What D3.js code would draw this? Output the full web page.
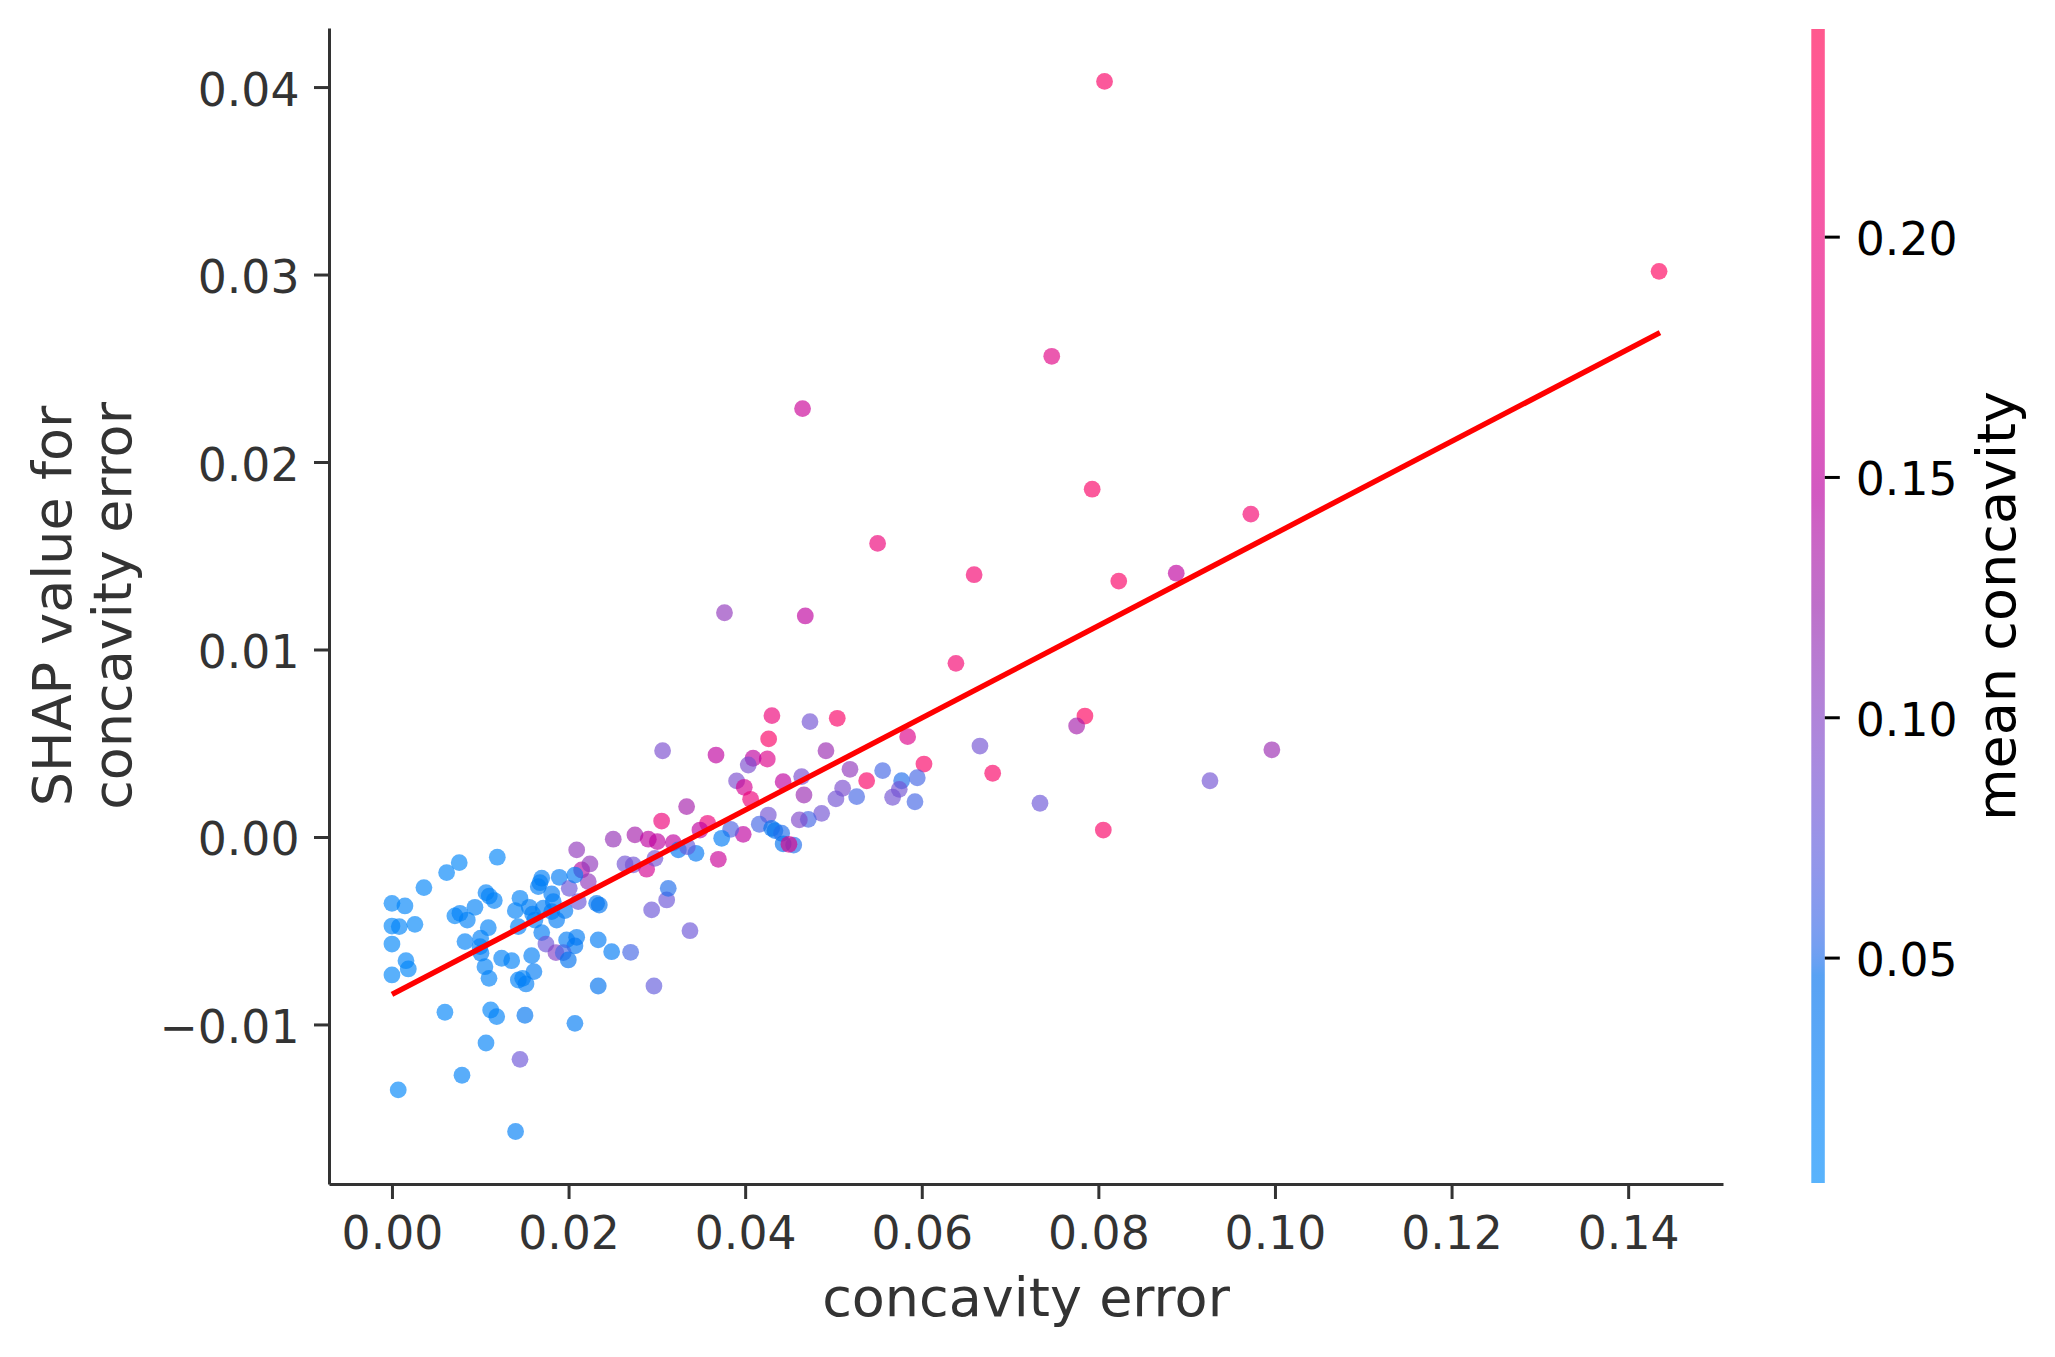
<!DOCTYPE html>
<html><head><meta charset="utf-8">
<script src="https://cdn.jsdelivr.net/npm/d3@7"></script>
<style>
html,body{margin:0;padding:0;background:#fff;}
svg{display:block;font-family:"DejaVu Sans",sans-serif;}
</style></head><body>
<svg id="chart" width="2055" height="1357"></svg>
<script>
// ---------------- data ----------------
const concavityError = [
0.00000,0.00147,0.00000,0.00083,0.00260,0.00000,0.00159,0.00185,0.00000,0.00362,
0.00619,0.00762,0.01193,0.00713,0.00770,0.00853,0.00940,0.01065,0.01102,0.01159,
0.01091,0.00827,0.01004,0.00997,0.01008,0.01053,0.01099,0.01242,0.01356,0.01397,
0.01450,0.01431,0.01555,0.01593,0.01619,0.01696,0.01657,0.01676,0.01809,0.01827,
0.01714,0.01809,0.01865,0.01959,0.01696,0.01744,0.01857,0.01582,0.01608,0.01431,
0.01480,0.01518,0.01895,0.02008,0.02092,0.02148,0.02242,0.02223,0.02110,0.02072,
0.01978,0.02092,0.02072,0.01940,0.01997,0.02336,0.02488,0.02703,0.02318,0.02348,
0.02336,0.02967,0.02941,0.03111,0.03129,0.02506,0.02752,0.02903,0.03005,0.03054,
0.02639,0.02733,0.02884,0.02978,0.03186,0.03243,0.00600,0.01118,0.01186,0.01506,
0.02072,0.01065,0.01450,0.00793,0.00071,0.01400,
0.03065,0.03670,0.04303,0.04734,0.05043,0.04266,0.04250,0.04090,0.04035,0.04915,
0.03903,0.03990,0.04062,0.04430,0.04640,0.04666,0.05187,0.05376,0.05557,0.05840,
0.06025,0.05772,0.05949,0.05745,0.05670,0.05923,0.05104,0.05028,0.05263,0.04866,
0.04715,0.04613,0.04262,0.04160,0.04300,0.04337,0.04413,0.04430,0.04550,0.04496,
0.03978,0.03836,0.03734,0.03696,0.03575,0.03488,0.03337,0.03443,0.03345,0.03375,
0.06387,0.07848,0.07754,0.06659,0.06803,0.07339,0.08056,0.09264,
0.07472,0.04650,0.07930,0.09727,0.05500,0.06593,0.08231,0.08882,0.03766,0.04681,0.09965,
0.08070,0.14350
];
const shapValues = [
-0.00354,-0.00368,-0.00475,-0.00478,-0.00466,-0.00571,-0.00660,-0.00704,-0.00736,-0.00270,
-0.00190,-0.00137,-0.00108,-0.00421,-0.00407,-0.00443,-0.00375,-0.00297,-0.00315,-0.00339,
-0.00484,-0.00558,-0.00540,-0.00585,-0.00620,-0.00692,-0.00754,-0.00647,-0.00660,-0.00393,
-0.00327,-0.00478,-0.00375,-0.00411,-0.00443,-0.00220,-0.00265,-0.00244,-0.00304,-0.00345,
-0.00380,-0.00398,-0.00443,-0.00393,-0.00510,-0.00571,-0.00617,-0.00633,-0.00718,-0.00763,
-0.00754,-0.00784,-0.00215,-0.00274,-0.00069,-0.00176,-0.00144,-0.00238,-0.00345,-0.00203,
-0.00549,-0.00535,-0.00581,-0.00617,-0.00656,-0.00549,-0.00612,-0.00615,-0.00354,-0.00363,
-0.00795,-0.00795,-0.00389,-0.00336,-0.00274,-0.00012,0.00011,-0.00012,-0.00025,0.00085,
-0.00144,-0.00149,-0.00172,-0.00114,-0.00030,-0.00069,-0.00935,-0.00923,-0.00958,-0.00951,
-0.00994,-0.01099,-0.01186,-0.01271,-0.01349,-0.01571,
0.00460,0.00437,0.00647,0.00615,0.00633,0.00523,0.00416,0.00420,0.00384,0.00460,
0.00299,0.00265,0.00201,0.00295,0.00322,0.00224,0.00361,0.00300,0.00354,0.00535,
0.00389,0.00300,0.00316,0.00254,0.00212,0.00188,0.00260,0.00203,0.00215,0.00126,
0.00094,0.00091,0.00117,0.00068,0.00046,0.00034,0.00020,-0.00037,-0.00043,-0.00039,
0.00014,0.00041,-0.00007,-0.00119,0.00073,0.00037,0.00162,-0.00087,-0.00052,-0.00500,
0.00926,0.00645,0.00592,0.00485,0.00340,0.00180,0.00037,0.00300,
0.02564,0.02285,0.01855,0.01722,0.01566,0.01399,0.01365,0.01407,0.01196,0.01179,0.00465,
0.04030,0.03017
];
const meanConcavity = [
0.015,0.015,0.012,0.015,0.012,0.012,0.015,0.012,0.012,0.015,
0.015,0.012,0.015,0.015,0.020,0.020,0.020,0.020,0.020,0.020,
0.020,0.020,0.020,0.020,0.025,0.020,0.020,0.020,0.020,0.020,
0.020,0.020,0.025,0.025,0.025,0.025,0.025,0.025,0.030,0.025,
0.025,0.030,0.030,0.030,0.030,0.080,0.100,0.025,0.030,0.020,
0.020,0.025,0.030,0.080,0.110,0.140,0.110,0.110,0.080,0.030,
0.030,0.030,0.035,0.060,0.045,0.030,0.030,0.060,0.035,0.040,
0.045,0.075,0.080,0.080,0.050,0.115,0.130,0.150,0.150,0.200,
0.085,0.085,0.170,0.085,0.150,0.035,0.015,0.015,0.020,0.040,
0.030,0.020,0.080,0.020,0.012,0.025,
0.090,0.150,0.200,0.085,0.220,0.220,0.180,0.150,0.090,0.120,
0.090,0.170,0.200,0.150,0.090,0.120,0.110,0.220,0.060,0.180,
0.220,0.050,0.060,0.085,0.085,0.060,0.090,0.085,0.060,0.085,
0.060,0.095,0.085,0.060,0.045,0.045,0.050,0.045,0.050,0.180,
0.150,0.065,0.030,0.160,0.200,0.150,0.130,0.035,0.075,0.080,
0.210,0.230,0.130,0.085,0.220,0.080,0.220,0.085,
0.185,0.160,0.220,0.210,0.200,0.210,0.220,0.150,0.110,0.150,0.120,
0.220,0.230
];
const xTickValues = [0, 0.02, 0.04, 0.06, 0.08, 0.10, 0.12, 0.14];
const yTickValues = [-0.01, 0, 0.01, 0.02, 0.03, 0.04];
const colorTickValues = [0.05, 0.10, 0.15, 0.20];
const fitLineX = [0, 0.1436];
const fitLineY = [-0.0084, 0.0269];
const xLabel = "concavity error";
const yLabelLines = ["SHAP value for", "concavity error"];
const colorLabel = "mean concavity";
const xLimits = [-0.00713, 0.15074];
const yLimits = [-0.01851, 0.04315];
const colorLimits = [0.0031, 0.2432];

// ---------------- colormap (shap red_blue, LCH interpolation) ----------------
function labToRgb(L, a, b) {
  const fy = (L + 16) / 116, fx = fy + a / 500, fz = fy - b / 200;
  const e = 6 / 29;
  const finv = t => t > e ? t * t * t : 3 * e * e * (t - 4 / 29);
  const X = 0.95047 * finv(fx), Y = finv(fy), Z = 1.08883 * finv(fz);
  const r = 3.2404542 * X - 1.5371385 * Y - 0.4985314 * Z;
  const g = -0.9692660 * X + 1.8760108 * Y + 0.0415560 * Z;
  const bl = 0.0556434 * X - 0.2040259 * Y + 1.0572252 * Z;
  const gam = c => c <= 0.0031308 ? 12.92 * c : 1.055 * Math.pow(c, 1 / 2.4) - 0.055;
  return [r, g, bl].map(c => Math.round(Math.max(0, Math.min(1, gam(c))) * 255));
}
function redBlue(t) {
  t = Math.max(0, Math.min(1, t));
  const L = t < 0.5 ? 54 + (40 - 54) * (t / 0.5) : 40 + (54 - 40) * ((t - 0.5) / 0.5);
  const C = 70 + (90 - 70) * t;
  const h = 4.6588 + (0.35470565 + 2 * Math.PI - 4.6588) * t;
  const [r, g, b] = labToRgb(L, C * Math.cos(h), C * Math.sin(h));
  return `rgb(${r},${g},${b})`;
}
const ALPHA = 0.65;

// ---------------- layout ----------------
const svg = d3.select("#chart");
svg.append("rect").attr("width", 2055).attr("height", 1357).attr("fill", "#fff");
const plot = {left: 329, right: 1723, top: 28, bottom: 1184};
const x = d3.scaleLinear().domain(xLimits).range([plot.left, plot.right]);
const y = d3.scaleLinear().domain(yLimits).range([plot.bottom, plot.top]);
const cNorm = d3.scaleLinear().domain(colorLimits).range([0, 1]).clamp(true);
const cbar = {left: 1811.3, width: 13.5, top: 29, bottom: 1183};
const cy = d3.scaleLinear().domain(colorLimits).range([cbar.bottom, cbar.top]);

const TICK_FS = 45.7, LABEL_FS = 54, AX = "#333333";

// points
const pts = concavityError.map((v, i) => ({x: v, y: shapValues[i], c: meanConcavity[i]}));
svg.append("g").selectAll("circle").data(pts).join("circle")
  .attr("cx", d => x(d.x)).attr("cy", d => y(d.y)).attr("r", 8.4)
  .attr("fill", d => redBlue(cNorm(d.c))).attr("fill-opacity", ALPHA);

// fit line
const line = d3.line().x(d => x(d[0])).y(d => y(d[1]));
svg.append("path").datum(fitLineX.map((v, i) => [v, fitLineY[i]]))
  .attr("d", line).attr("fill", "none").attr("stroke", "#ff0000").attr("stroke-width", 5.4);

// axes
function styleAxis(g, color, textY, textDy) {
  g.attr("font-size", null).attr("font-family", null);
  g.select(".domain").attr("stroke", color).attr("stroke-width", 3);
  g.selectAll(".tick line").attr("stroke", color).attr("stroke-width", 3);
  g.selectAll(".tick text").attr("fill", color).attr("font-size", TICK_FS)
    .attr("font-family", "DejaVu Sans").attr("dy", textDy);
  if (textY !== null) g.selectAll(".tick text").attr("y", textY);
}
const fmt = d3.format(".2f");
const gx = svg.append("g").attr("transform", `translate(0,${plot.bottom})`)
  .call(d3.axisBottom(x).tickValues(xTickValues).tickFormat(fmt).tickSize(15).tickSizeOuter(0).tickPadding(14.5));
styleAxis(gx, AX, 65, 0);
const gy = svg.append("g").attr("transform", `translate(${plot.left},0)`)
  .call(d3.axisLeft(y).tickValues(yTickValues).tickFormat(fmt).tickSize(15).tickSizeOuter(0).tickPadding(14.5));
styleAxis(gy, AX, 18, 0);

// colorbar
const defs = svg.append("defs");
const grad = defs.append("linearGradient").attr("id", "cbgrad")
  .attr("x1", 0).attr("y1", 1).attr("x2", 0).attr("y2", 0);
d3.range(0, 101).forEach(k => {
  const t = k / 100;
  grad.append("stop").attr("offset", t).attr("stop-color", redBlue(t)).attr("stop-opacity", ALPHA);
});
svg.append("rect").attr("x", cbar.left).attr("y", cbar.top)
  .attr("width", cbar.width).attr("height", cbar.bottom - cbar.top).attr("fill", "url(#cbgrad)");
const gc = svg.append("g").attr("transform", `translate(${cbar.left + cbar.width},0)`)
  .call(d3.axisRight(cy).tickValues(colorTickValues).tickFormat(fmt).tickSize(15).tickSizeOuter(0).tickPadding(16));
styleAxis(gc, "#000", 18, 0);
gc.select(".domain").remove();

// labels
svg.append("text").attr("x", (plot.left + plot.right) / 2).attr("y", 1316)
  .attr("text-anchor", "middle").attr("font-size", LABEL_FS).attr("fill", AX).text(xLabel);
const ylBase = [71, 131];
yLabelLines.forEach((t, i) => {
  svg.append("text").attr("transform", `translate(${ylBase[i]},${(plot.top + plot.bottom) / 2}) rotate(-90)`)
    .attr("text-anchor", "middle").attr("font-size", LABEL_FS).attr("fill", AX).text(t);
});
svg.append("text").attr("transform", `translate(2015,${(cbar.top + cbar.bottom) / 2}) rotate(-90)`)
  .attr("text-anchor", "middle").attr("font-size", LABEL_FS).attr("fill", "#000").text(colorLabel);
</script>
</body></html>
